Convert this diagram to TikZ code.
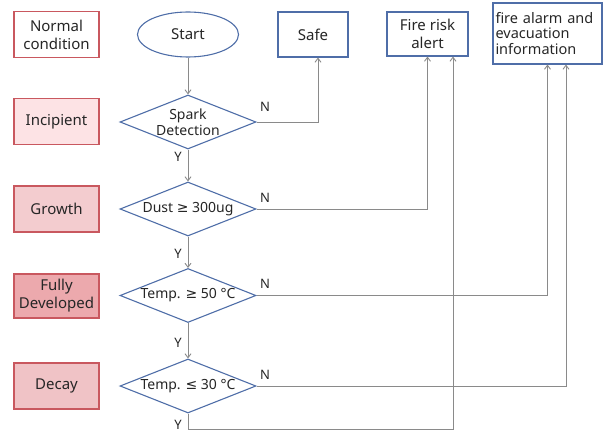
\documentclass[tikz,border=0pt]{standalone}
\usepackage{fontspec}
\setmainfont{Noto Sans}
\newfontfamily\mathsym{DejaVu Sans}
\usetikzlibrary{shapes.geometric,arrows.meta}

\definecolor{flowblue}{HTML}{4F6EA8}
\definecolor{stageedge}{HTML}{C9585F}
\definecolor{stagea}{HTML}{FDE3E5}
\definecolor{stageb}{HTML}{F3CCCF}
\definecolor{stagec}{HTML}{ECA9AD}
\definecolor{staged}{HTML}{F0C3C6}
\definecolor{wire}{HTML}{8A8A8A}
\definecolor{ink}{HTML}{262626}

\tikzset{
  stagebox/.style={draw=stageedge, line width=1.1pt, minimum width=85pt,
    minimum height=46pt, align=center, text=ink,
    font=\fontsize{15}{18}\selectfont},
  outbox/.style={draw=flowblue, line width=1.1pt, align=center, text=ink,
    font=\fontsize{15}{18}\selectfont},
  decision/.style={draw=flowblue, line width=1.1pt, diamond, fill=white,
    minimum width=136pt, minimum height=54pt, inner sep=0pt},
  dtext/.style={align=center, text=ink, font=\fontsize{14}{16}\selectfont},
  wirearrow/.style={draw=wire, line width=0.9pt,
    -{Straight Barb[length=4pt,width=6pt]}},
  wirelabel/.style={text=ink, font=\fontsize{13}{15}\selectfont, inner sep=0pt}
}

\begin{document}
\begin{tikzpicture}[x=1pt,y=-1pt]
\useasboundingbox (0,0) rectangle (605,433);

% fire stages
\node[stagebox, fill=white] (normal) at (56.5,34.5) {Normal\\condition};
\node[stagebox, fill=stagea] (incip) at (56.5,121.5) {Incipient};
\node[stagebox, fill=stageb] (growth) at (56.5,209) {Growth};
\node[stagebox, fill=stagec, minimum height=44pt] (fully) at (56.5,296) {Fully\\Developed};
\node[stagebox, fill=staged] (decay) at (56.5,386) {Decay};

% flow
\node[draw=flowblue, line width=1.1pt, ellipse, minimum width=101pt,
  minimum height=45pt, text=ink, font=\fontsize{15}{18}\selectfont]
  (start) at (188,34.5) {Start};
\node[decision] (spark) at (188,122) {};
\node[dtext] (sparkt) at (188,122) {Spark\\Detection};
\node[decision] (dust) at (188,209) {};
\node[dtext] (dustt) at (188,209) {Dust {\mathsym ≥} 300ug};
\node[decision] (hot) at (188,295.5) {};
\node[dtext] (hott) at (188,295.5) {Temp. {\mathsym ≥} 50 °C};
\node[decision] (cool) at (188,386) {};
\node[dtext] (coolt) at (188,386) {Temp. {\mathsym ≤} 30 °C};

% outcomes
\node[outbox, minimum width=70pt, minimum height=45pt] (safe) at (313,34.5) {Safe};
\node[outbox, minimum width=81pt, minimum height=44pt] (risk) at (427.5,34) {Fire risk\\alert};
\node[outbox, minimum width=109pt, minimum height=61pt, align=left,
  font=\fontsize{14.5}{15.5}\selectfont, text width=104pt, inner sep=2pt]
  (alarm) at (547.5,33.5) {fire alarm and\\evacuation\\information};

\coordinate (ybot) at (188,429);

% Y branches
\draw[wirearrow] (start) -- (spark);
\draw[wirearrow] (spark) -- (dust);
\draw[wirearrow] (dust) -- (hot);
\draw[wirearrow] (hot) -- (cool);
\draw[wirearrow] (cool.south) -- (ybot) -| ([xshift=25.5pt]risk.south);

% N branches
\draw[wirearrow] (spark.east) -| ([xshift=5pt]safe.south);
\draw[wirearrow] (dust.east) -| (risk.south);
\draw[wirearrow] (hot.east) -| (alarm.south);
\draw[wirearrow] (cool.east) -| ([xshift=18.5pt]alarm.south);

% branch labels
\node[wirelabel] (y1) at (178,157) {Y};
\node[wirelabel] (y2) at (178,254) {Y};
\node[wirelabel] (y3) at (178,343) {Y};
\node[wirelabel] (y4) at (178,425) {Y};
\node[wirelabel] (n1) at (265,107) {N};
\node[wirelabel] (n2) at (265,198) {N};
\node[wirelabel] (n3) at (265,284) {N};
\node[wirelabel] (n4) at (265,375) {N};
\end{tikzpicture}
\end{document}
